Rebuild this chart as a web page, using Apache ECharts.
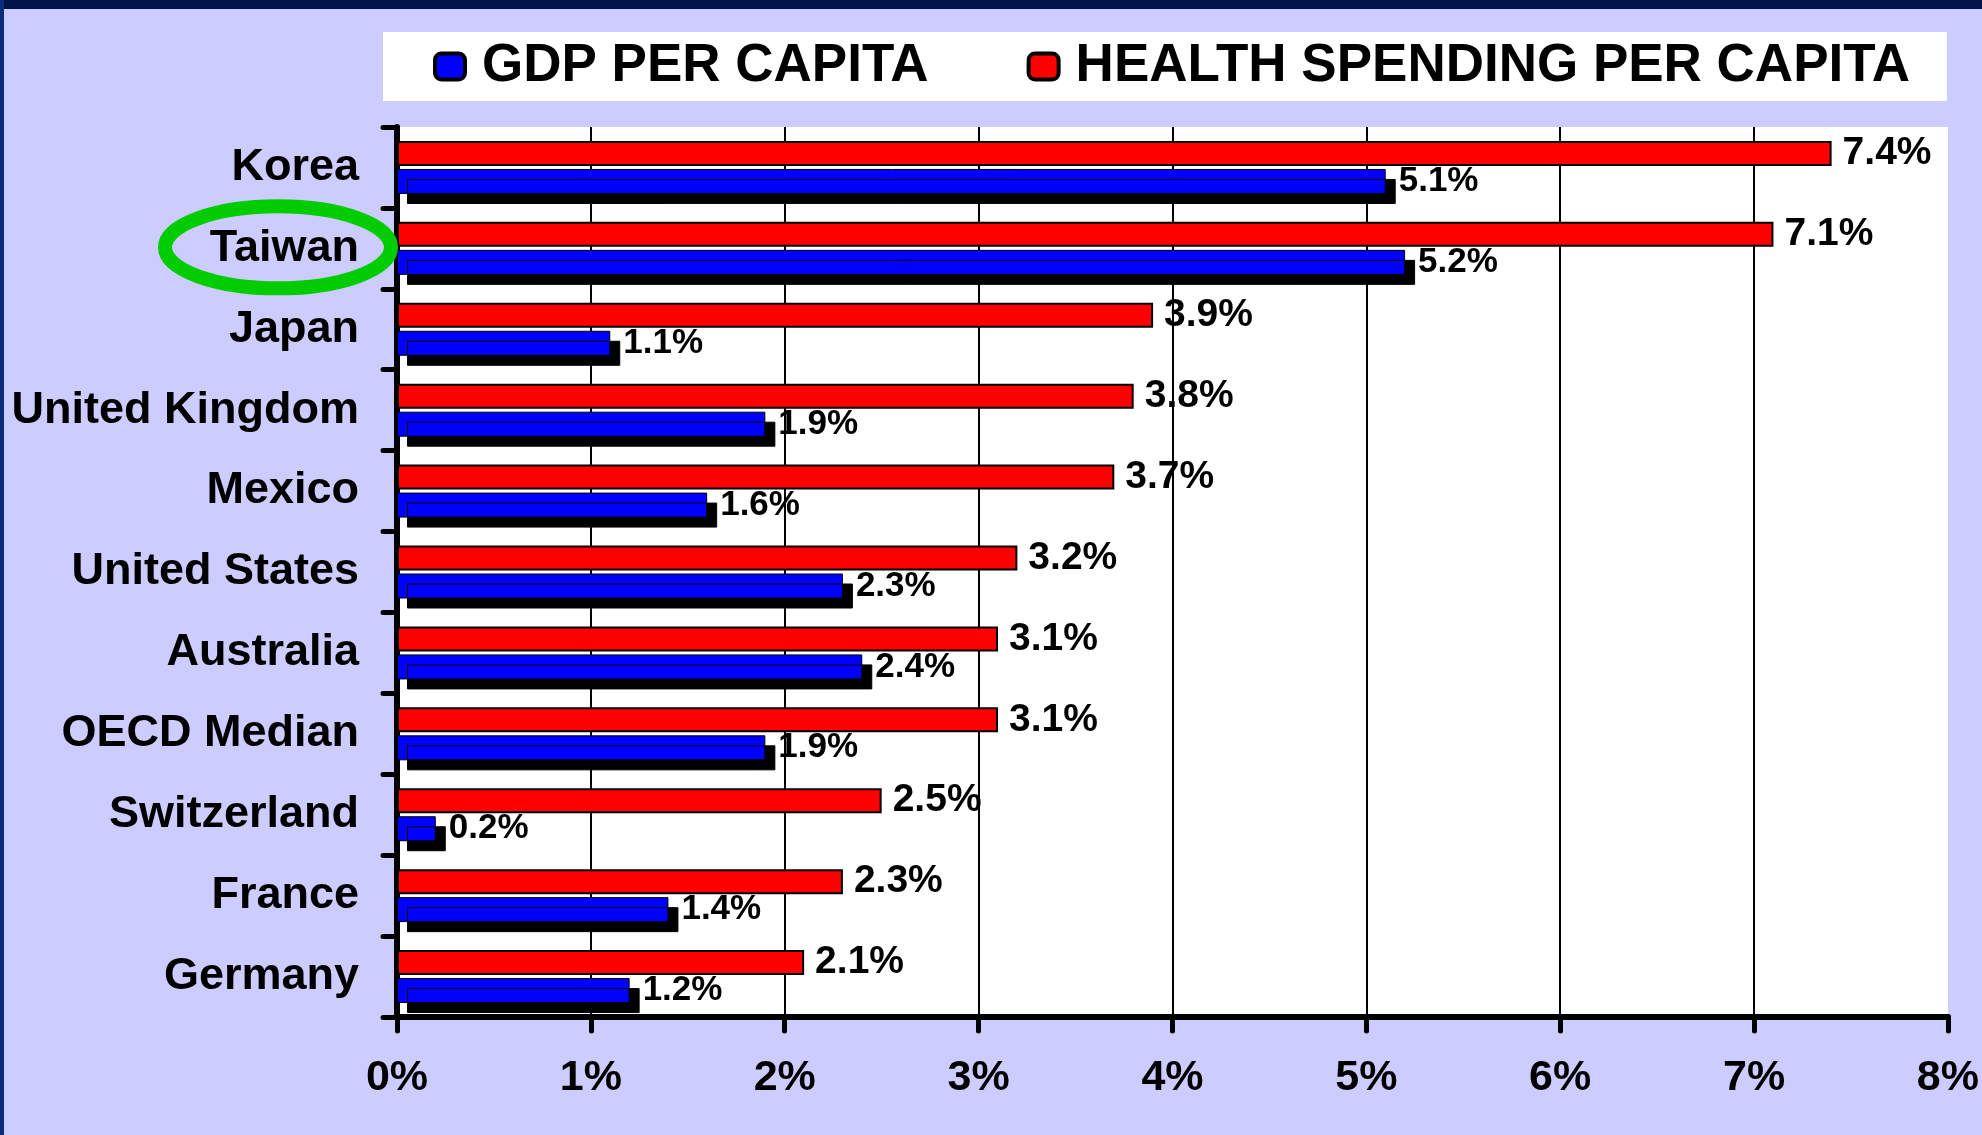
<!DOCTYPE html>
<html>
<head>
<meta charset="utf-8">
<script src="https://cdn.jsdelivr.net/npm/echarts@6/dist/echarts.min.js"></script>
<style>
  html, body { margin: 0; padding: 0; background: #ccccff; }
  #chart { width: 1982px; height: 1135px; }
</style>
</head>
<body>
<div id="chart"></div>
<script>
// Growth per capita, by country (percent)
const countries = ['Korea', 'Taiwan', 'Japan', 'United Kingdom', 'Mexico', 'United States',
  'Australia', 'OECD Median', 'Switzerland', 'France', 'Germany'];
const healthSpending = [7.4, 7.1, 3.9, 3.8, 3.7, 3.2, 3.1, 3.1, 2.5, 2.3, 2.1];
const gdpPerCapita = [5.1, 5.2, 1.1, 1.9, 1.6, 2.3, 2.4, 1.9, 0.2, 1.4, 1.2];
const xTickValues = [0, 1, 2, 3, 4, 5, 6, 7, 8];
const highlighted = 'Taiwan';

const FONT = '"Liberation Sans", Arial, sans-serif';
const chart = echarts.init(document.getElementById('chart'));

const pct = p => p.value.toFixed(1) + '%';

const option = {
  backgroundColor: '#ccccff',
  animation: false,
  grid: {
    left: 397, right: 31, top: 127, bottom: 118,
    show: true, backgroundColor: '#ffffff', borderWidth: 0
  },
  legend: {
    data: ['GDP PER CAPITA', 'HEALTH SPENDING PER CAPITA'],
    left: 433, top: 40, padding: 0,
    icon: 'roundRect',
    itemWidth: 30, itemHeight: 26, itemGap: 98,
    itemStyle: { borderColor: '#000', borderWidth: 4, shadowBlur: 0, shadowOffsetX: 0, shadowOffsetY: 0, shadowColor: 'rgba(0,0,0,0)' },
    textStyle: { fontFamily: FONT, fontWeight: 'bold', fontSize: 53, color: '#000', padding: [0, 0, 0, 12] },
    selectedMode: false
  },
  xAxis: {
    type: 'value',
    min: xTickValues[0], max: xTickValues[xTickValues.length - 1], interval: 1,
    axisLine: { show: true, lineStyle: { color: '#000', width: 6 } },
    axisTick: { show: true, length: 14, lineStyle: { color: '#000', width: 5, cap: 'round' } },
    axisLabel: { formatter: '{value}%', fontFamily: FONT, fontWeight: 'bold', fontSize: 43, color: '#000', margin: 40 },
    splitLine: { show: true, showMinLine: false, showMaxLine: false, lineStyle: { color: '#000', width: 2 } }
  },
  yAxis: {
    type: 'category',
    data: countries,
    inverse: true,
    axisLine: { show: true, lineStyle: { color: '#000', width: 6 } },
    axisTick: { show: true, length: 14, lineStyle: { color: '#000', width: 5, cap: 'round' } },
    axisLabel: { fontFamily: FONT, fontWeight: 'bold', fontSize: 45, color: '#000', margin: 38 },
    splitLine: { show: false }
  },
  series: [
    {
      name: 'HEALTH SPENDING PER CAPITA',
      type: 'bar',
      data: healthSpending,
      barWidth: 25,
      barGap: '12%',
      itemStyle: { color: '#ff0000', borderColor: '#000', borderWidth: 2 },
      label: { show: true, position: 'right', distance: 11, formatter: pct,
        fontFamily: FONT, fontWeight: 'bold', fontSize: 39, color: '#000' }
    },
    {
      name: 'GDP PER CAPITA',
      type: 'bar',
      data: gdpPerCapita,
      barWidth: 25,
      barGap: '12%',
      itemStyle: { color: '#0000ff', borderColor: '#000', borderWidth: 1,
        shadowColor: '#000', shadowBlur: 0, shadowOffsetX: 10, shadowOffsetY: 10 },
      label: { show: true, position: 'right', distance: 13, formatter: pct,
        fontFamily: FONT, fontWeight: 'bold', fontSize: 35, color: '#000' }
    }
  ],
  graphic: [
    { type: 'rect', id: 'topBand', shape: { x: 0, y: 0, width: 1982, height: 9 }, style: { fill: '#00144a' }, silent: true },
    { type: 'rect', id: 'leftBand', shape: { x: 0, y: 0, width: 4, height: 1135 }, style: { fill: '#0b2a78' }, silent: true },
    { type: 'rect', id: 'legendBox', shape: { x: 383, y: 32, width: 1564, height: 69 }, style: { fill: '#ffffff' }, silent: true, z: -1 }
  ]
};

chart.setOption(option);

// Ring around the highlighted category label, centred on its row
const rowY = chart.convertToPixel({ yAxisIndex: 0 }, highlighted);
chart.setOption({
  graphic: [
    { type: 'ellipse', id: 'ring', shape: { cx: 278, cy: rowY - 1, rx: 113, ry: 41 },
      style: { fill: 'none', stroke: '#00cc00', lineWidth: 14 }, silent: true, z: 10 }
  ]
});
</script>
</body>
</html>
